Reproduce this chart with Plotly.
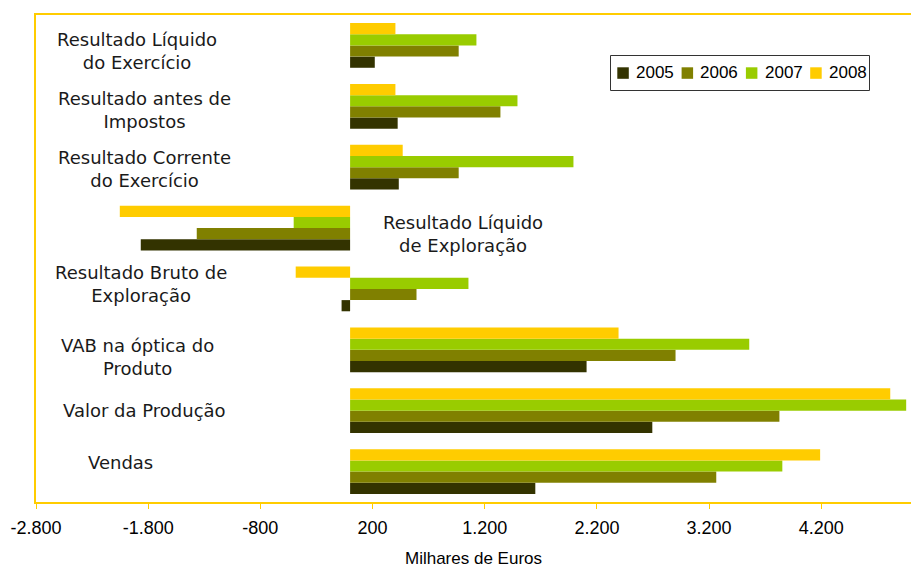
import plotly.graph_objects as go

# Categories listed bottom-to-top (Plotly stacks categorical y upwards)
categories = [
    "Vendas",
    "Valor da Produção",
    "VAB na óptica do Produto",
    "Resultado Bruto de Exploração",
    "Resultado Líquido de Exploração",
    "Resultado Corrente do Exercício",
    "Resultado antes de Impostos",
    "Resultado Líquido do Exercício",
]

# Values in thousands of euros, same order as categories
v2005 = [1651, 2694, 2108, -76, -1866, 434, 424, 220]
v2006 = [3264, 3827, 2901, 592, -1367, 968, 1340, 968]
v2007 = [3853, 4957, 3558, 1055, -503, 1991, 1492, 1126]
v2008 = [4190, 4815, 2393, -485, -2053, 469, 404, 404]

years = ["2005", "2006", "2007", "2008"]
series = [v2005, v2006, v2007, v2008]
colors = ["#333300", "#808000", "#99CC00", "#FFCC00"]

tick_values = [-2800, -1800, -800, 200, 1200, 2200, 3200, 4200]
tick_labels = [f"{v:,}".replace(",", ".") for v in tick_values]

# Category captions drawn inside the plot area: (text, x centre px, vertical shift px)
captions = [
    ("Vendas", 120, 9),
    ("Valor da Produção", 144, 0),
    ("VAB na óptica do<br>Produto", 137, -7),
    ("Resultado Bruto de<br>Exploração", 141, 5),
    ("Resultado Líquido<br>de Exploração", 463, -6),
    ("Resultado Corrente<br>do Exercício", 144, -2),
    ("Resultado antes de<br>Impostos", 144, -4),
    ("Resultado Líquido<br>do Exercício", 137, -6),
]

W, H = 911, 569
ML, MR, MT, MB = 36, 0, 15, 67
GOLD = "#FFCC00"
SANS = "Liberation Sans, Arial, sans-serif"
VERD = "DejaVu Sans, Verdana, sans-serif"


def px_x(px):
    return (px - ML) / (W - ML - MR)


def px_y(py):
    return (H - MB - py) / (H - MT - MB)


fig = go.Figure()
for name, vals, col in zip(years, series, colors):
    fig.add_trace(go.Bar(
        y=categories, x=vals, name=name, orientation="h",
        marker=dict(color=col, line=dict(width=0)),
        hoverinfo="x+name",
    ))

for cat, (text, xc, ys) in zip(categories, captions):
    fig.add_annotation(
        x=px_x(xc), xref="paper", y=cat, yref="y", yshift=ys,
        text=text, showarrow=False, align="center",
        xanchor="center", yanchor="middle",
        font=dict(family=VERD, size=18, color="#1a1a1a"),
    )

fig.add_annotation(
    x=0.5, xref="paper", y=0, yref="paper", yshift=-56,
    text="Milhares de Euros", showarrow=False,
    xanchor="center", yanchor="middle",
    font=dict(family=SANS, size=17, color="#000000"),
)

# Boxed legend row: frame, colour swatches and year labels
fig.add_shape(
    type="rect", xref="paper", yref="paper",
    x0=px_x(610.5), x1=px_x(869.5), y0=px_y(90.5), y1=px_y(55.5),
    line=dict(color="#333333", width=1), fillcolor="white", layer="above",
)
for i, (name, col) in enumerate(zip(years, colors)):
    left = 617.3 + 64.3 * i
    fig.add_shape(
        type="rect", xref="paper", yref="paper",
        x0=px_x(left), x1=px_x(left + 11.5), y0=px_y(78.8), y1=px_y(67.3),
        line=dict(width=0), fillcolor=col, layer="above",
    )
    fig.add_annotation(
        x=px_x(left + 16.7), xref="paper", y=px_y(72.5), yref="paper",
        text=name, showarrow=False, xanchor="left", yanchor="middle",
        font=dict(family=SANS, size=17, color="#000000"),
    )

fig.update_layout(
    width=W, height=H,
    margin=dict(l=ML, r=MR, t=MT, b=MB, autoexpand=False),
    paper_bgcolor="white", plot_bgcolor="white",
    barmode="group", bargap=0.266, bargroupgap=0,
    showlegend=False,
    xaxis=dict(
        range=[-2800, 5000],
        tickvals=tick_values, ticktext=tick_labels,
        showgrid=False, zeroline=False,
        showline=True, linecolor=GOLD, linewidth=2, mirror=True,
        ticks="outside", ticklen=5, tickcolor=GOLD, tickwidth=1,
        ticklabelstandoff=3,
        tickfont=dict(family=SANS, size=18, color="#000000"),
    ),
    yaxis=dict(
        showticklabels=False, showgrid=False, zeroline=False,
        showline=True, linecolor=GOLD, linewidth=2,
        ticks="",
    ),
)

fig.write_html("out.html")
